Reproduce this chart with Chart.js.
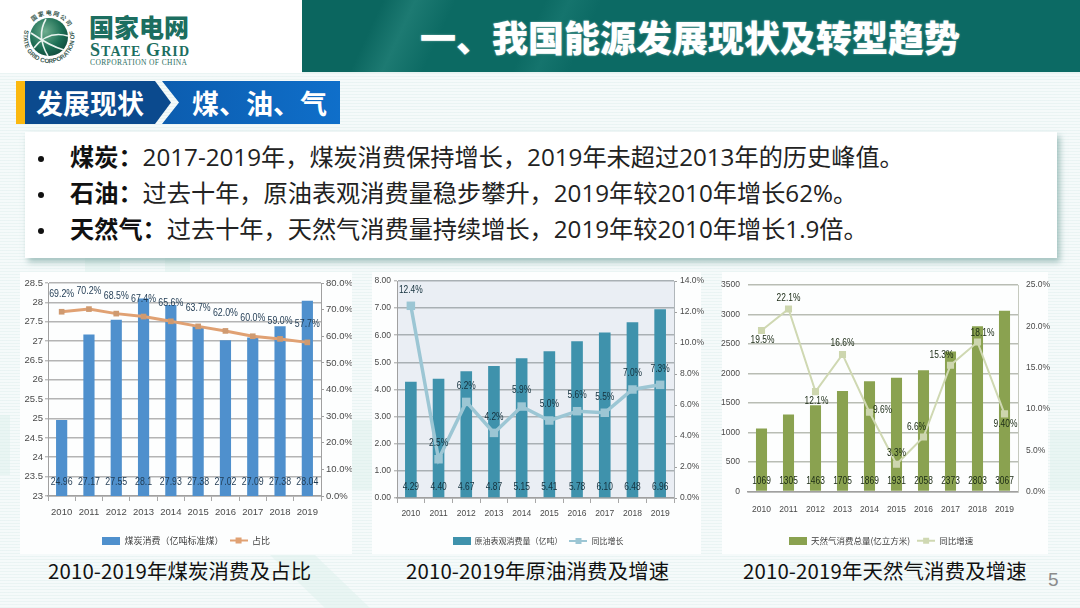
<!DOCTYPE html>
<html>
<head>
<meta charset="utf-8">
<script src="https://cdn.jsdelivr.net/npm/chart.js@4"></script>
<style>
  html, body { margin: 0; padding: 0; }
  body { width: 1080px; height: 608px; overflow: hidden; position: relative; font-family: "Noto Sans CJK SC", sans-serif; color: #1c1c1c;
    background:
      repeating-linear-gradient(0deg, rgba(205,228,226,.28) 0 1px, rgba(255,255,255,0) 1px 3px),
      linear-gradient(0deg, #f5fafa, #f5fafa); }
  .wm { position: absolute; background: #dcefeb; opacity: .45; }
  .panel { position: absolute; top: 272px; height: 282px; background: #fdfefe; }
  #logoBox { position: absolute; left: 0; top: 0; width: 302px; height: 73px; background: #fff; }
  #band { position: absolute; left: 302px; top: 0; width: 778px; height: 73px;
    background: linear-gradient(115deg, #0b665f 0 10%, #1d7a72 14%, #0c6a63 19%, #0c6a63 30%, #15746d 33%, #0c6a64 37%); border-bottom: 1px solid #e6f3f1; box-sizing: border-box; }
  #title { position: absolute; left: 420px; top: 10px; font-size: 36px; line-height: 52px; font-weight: 900; color: #fff; white-space: nowrap; text-shadow: 0 0 2px rgba(255,255,255,.5); }
  #tagY { position: absolute; left: 16px; top: 81px; width: 9px; height: 43px; background: #fbb80f; }
  #tagSvg { position: absolute; left: 25px; top: 81px; }
  .tagText { position: absolute; top: 81px; line-height: 43px; font-size: 27px; font-weight: 700; color: #fff; white-space: nowrap; }
  #points { position: absolute; left: 25px; top: 132px; width: 1032px; height: 126px; background: #fff; box-shadow: 3px 4px 6px rgba(120,165,160,.65); }
  .pt { position: absolute; left: 45px; font-family: "Open Sans", "Noto Sans CJK SC", sans-serif; font-size: 24.2px; line-height: 36px; white-space: nowrap; color: #222; }
  .pt b { font-weight: 700; color: #111; }
  .dot { position: absolute; left: 13px; width: 6px; height: 6px; border-radius: 50%; background: #111; }
  canvas { position: absolute; }
  .cap { position: absolute; top: 555px; line-height: 30px; font-size: 20.4px; color: #111; white-space: nowrap; letter-spacing: .15px; }
  #pageNo { position: absolute; left: 1048px; top: 567px; font-size: 19px; line-height: 26px; color: #8c8c8c; font-family: "Liberation Sans", sans-serif; }
</style>
</head>
<body>
<div class="wm" style="left:0;top:415px;width:10px;height:60px"></div>
<div class="wm" style="left:352px;top:420px;width:20px;height:70px"></div>
<div class="wm" style="left:1050px;top:430px;width:30px;height:60px"></div>
<div class="wm" style="left:270px;top:555px;width:100px;height:53px;clip-path:polygon(0 0,45% 0,100% 100%,55% 100%)"></div>
<div class="wm" style="left:85px;top:258px;width:35px;height:14px"></div>
<div class="wm" style="left:165px;top:258px;width:25px;height:14px"></div>

<div id="logoBox">
  <svg width="302" height="73" xmlns="http://www.w3.org/2000/svg">
    <defs>
      <radialGradient id="globe" cx=".4" cy=".35" r=".8"><stop offset="0" stop-color="#6fae8f"/><stop offset=".55" stop-color="#1d6f55"/><stop offset="1" stop-color="#0d3f33"/></radialGradient>
      <path id="ringLow" d="M 25 29 A 25.5 25.5 0 1 0 73 29"/>
      <path id="ringTop" d="M 30 26 A 22 22 0 0 1 68 26"/>
    </defs>
    <circle cx="49" cy="37" r="19" fill="url(#globe)"/>
    <path d="M34 48 Q48 30 68 36 M31 33 Q50 46 64 50 M46 19 Q36 36 48 56" stroke="#e8f3ee" stroke-width="1.6" fill="none"/>
    <text font-size="6.2" font-family="Liberation Sans" font-weight="700" fill="#3b5b52"><textPath href="#ringLow" startOffset="1%">STATE GRID CORPORATION OF CHINA</textPath></text>
    <text font-size="6" font-weight="700" fill="#3b5b52" font-family="Noto Sans CJK SC" letter-spacing="1"><textPath href="#ringTop" startOffset="12%">国家电网公司</textPath></text>
    <text x="89" y="37" font-size="25" font-weight="900" fill="#1c6e60" font-family="Noto Sans CJK SC">国家电网</text>
    <text x="90" y="56" font-weight="700" fill="#1c6e60" font-family="Liberation Serif" textLength="99" font-size="14">
      <tspan font-size="18">S</tspan>TATE <tspan font-size="18">G</tspan>RID</text>
    <text x="90" y="65" font-size="7.5" fill="#2d6f62" font-family="Liberation Serif" textLength="97">CORPORATION OF CHINA</text>
  </svg>
</div>
<div id="band"></div>
<div id="title">一、我国能源发展现状及转型趋势</div>

<div id="tagY"></div>
<svg id="tagSvg" width="315" height="43" xmlns="http://www.w3.org/2000/svg">
  <defs><linearGradient id="tagG" x1="0" x2="1"><stop offset="0" stop-color="#0c5cae"/><stop offset="1" stop-color="#0f6fca"/></linearGradient></defs>
  <polygon points="130,0 315,0 315,43 130,43 137,43 154,21.5 137,0" fill="url(#tagG)"/>
  <polygon points="0,0 130,0 146,21.5 130,43 0,43" fill="#0b4a8e"/>
</svg>
<div class="tagText" style="left:36px">发展现状</div>
<div class="tagText" style="left:192px">煤、油、气</div>

<div id="points">
  <div class="dot" style="top:24px"></div>
  <div class="pt" style="top:7px"><b>煤炭&#xFF1A;</b>2017-2019年&#xFF0C;煤炭消费保持增长&#xFF0C;2019年未超过2013年的历史峰值。</div>
  <div class="dot" style="top:60px"></div>
  <div class="pt" style="top:43px"><b>石油&#xFF1A;</b>过去十年&#xFF0C;原油表观消费量稳步攀升&#xFF0C;2019年较2010年增长62%。</div>
  <div class="dot" style="top:96px"></div>
  <div class="pt" style="top:79px"><b>天然气&#xFF1A;</b>过去十年&#xFF0C;天然气消费量持续增长&#xFF0C;2019年较2010年增长1.9倍。</div>
</div>

<div class="panel" style="left:20px;width:332px"></div>
<div class="panel" style="left:372px;width:329px"></div>
<div class="panel" style="left:722px;width:326px"></div>
<canvas id="coalChart" width="332" height="283" style="left:20px;top:272px"></canvas>
<canvas id="oilChart" width="332" height="283" style="left:372px;top:272px"></canvas>
<canvas id="gasChart" width="338" height="283" style="left:712px;top:272px"></canvas>

<div class="cap" style="left:48px">2010-2019年煤炭消费及占比</div>
<div class="cap" style="left:406px">2010-2019年原油消费及增速</div>
<div class="cap" style="left:743px">2010-2019年天然气消费及增速</div>
<div id="pageNo">5</div>

<script>
const years = ['2010', '2011', '2012', '2013', '2014', '2015', '2016', '2017', '2018', '2019'];

const coalUse = [24.96, 27.17, 27.55, 28.1, 27.93, 27.38, 27.02, 27.09, 27.38, 28.04];
const coalShare = [69.2, 70.2, 68.5, 67.4, 65.6, 63.7, 62.0, 60.0, 59.0, 57.7];
const coalUseLabels = ['24.96', '27.17', '27.55', '28.1', '27.93', '27.38', '27.02', '27.09', '27.38', '28.04'];
const coalShareLabels = ['69.2%', '70.2%', '68.5%', '67.4%', '65.6%', '63.7%', '62.0%', '60.0%', '59.0%', '57.7%'];
const coalLeftTicks = ['23', '23.5', '24', '24.5', '25', '25.5', '26', '26.5', '27', '27.5', '28', '28.5'];
const coalRightTicks = ['0.0%', '10.0%', '20.0%', '30.0%', '40.0%', '50.0%', '60.0%', '70.0%', '80.0%'];

const oilUse = [4.29, 4.40, 4.67, 4.87, 5.15, 5.41, 5.78, 6.10, 6.48, 6.96];
const oilGrowth = [12.4, 2.5, 6.2, 4.2, 5.9, 5.0, 5.6, 5.5, 7.0, 7.3];
const oilUseLabels = ['4.29', '4.40', '4.67', '4.87', '5.15', '5.41', '5.78', '6.10', '6.48', '6.96'];
const oilGrowthLabels = ['12.4%', '2.5%', '6.2%', '4.2%', '5.9%', '5.0%', '5.6%', '5.5%', '7.0%', '7.3%'];
const oilLeftTicks = ['0.00', '1.00', '2.00', '3.00', '4.00', '5.00', '6.00', '7.00', '8.00'];
const oilRightTicks = ['0.0%', '2.0%', '4.0%', '6.0%', '8.0%', '10.0%', '12.0%', '14.0%'];

const gasUse = [1069, 1305, 1463, 1705, 1869, 1931, 2058, 2373, 2803, 3067];
const gasGrowth = [19.5, 22.1, 12.1, 16.6, 9.6, 3.3, 6.6, 15.3, 18.1, 9.4];
const gasUseLabels = ['1069', '1305', '1463', '1705', '1869', '1931', '2058', '2373', '2803', '3067'];
const gasGrowthLabels = ['19.5%', '22.1%', '12.1%', '16.6%', '9.6%', '3.3%', '6.6%', '15.3%', '18.1%', '9.40%'];
const gasGrowthSides = ['below', 'above', 'below', 'above', 'right', 'above', 'upleft', 'left', 'upright', 'below'];
const gasLeftTicks = ['0', '500', '1000', '1500', '2000', '2500', '3000', '3500'];
const gasRightTicks = ['0.0%', '5.0%', '10.0%', '15.0%', '20.0%', '25.0%'];

const tickFont = '"Liberation Sans", sans-serif';

// small picture for the legend, box for bars and line with marker for the line
function legendIcon(type, color) {
  const c = document.createElement('canvas');
  c.width = 18; c.height = 8;
  const g = c.getContext('2d');
  g.fillStyle = color;
  g.strokeStyle = color;
  if (type == 'bar') {
    g.fillRect(0, 0, 18, 8);
  } else {
    g.lineWidth = 2;
    g.beginPath(); g.moveTo(0, 4); g.lineTo(18, 4); g.stroke();
    g.fillRect(6, 1, 6, 6);
  }
  return c;
}

// narrow text, the source chart used a condensed face
function squeezed(c, text, x, y) {
  c.save();
  c.translate(x, y);
  c.scale(.8, 1);
  c.fillText(text, 0, 0);
  c.restore();
}

// draws the value texts (chart.js has no data labels without a plugin)
const valueLabels = {
  id: 'valueLabels',
  afterDatasetsDraw(chart, args, o) {
    const c = chart.ctx;
    c.save();
    c.textBaseline = 'middle';
    c.textAlign = 'center';
    c.font = o.font;
    c.fillStyle = o.color;
    chart.getDatasetMeta(0).data.forEach((bar, i) => {
      squeezed(c, o.barLabels[i], bar.x, chart.chartArea.bottom - o.barLift);
    });
    chart.getDatasetMeta(1).data.forEach((pt, i) => {
      const side = o.sides ? o.sides[i] : 'above';
      let dx = 0, dy = -o.lineGap;
      if (side == 'below') { dy = 10; dx = 1; }
      if (side == 'right') { dx = 13; dy = -2; }
      if (side == 'left') { dx = -9; dy = -10; }
      if (side == 'upleft') { dx = -7; dy = -10; }
      if (side == 'upright') { dx = 5; dy = -9; }
      squeezed(c, o.lineLabels[i], pt.x + dx, pt.y + dy);
    });
    c.restore();
  }
};

const plotBack = {
  id: 'plotBack',
  beforeDraw(chart, args, o) {
    if (!o.color) return;
    const a = chart.chartArea;
    chart.ctx.save();
    chart.ctx.fillStyle = o.color;
    chart.ctx.fillRect(a.left, a.top, a.width, a.height);
    chart.ctx.restore();
  }
};

function comboChart(id, s) {
  return new Chart(document.getElementById(id), {
    data: {
      labels: years,
      datasets: [
        { type: 'bar', order: 2, label: s.barName, data: s.bars, yAxisID: 'y', backgroundColor: s.barColor, barPercentage: s.barShare, categoryPercentage: 1 },
        { type: 'line', order: 1, label: s.lineName, data: s.line, yAxisID: 'y1', borderColor: s.lineColor, backgroundColor: s.markColor,
          borderWidth: s.lineWidth, pointStyle: 'rect', pointRadius: s.markSize, pointBorderWidth: 0, tension: 0 }
      ]
    },
    options: {
      responsive: false,
      animation: false,
      layout: { padding: { top: s.top, left: 0, right: 0, bottom: 0 } },
      scales: {
        x: {
          afterFit(a) { a.height = s.xHeight; },
          grid: { offset: true, drawOnChartArea: false, drawTicks: s.ticksOn, tickLength: 5, color: '#a8a8a8', tickWidth: 1 },
          border: { color: '#a0a0a0', width: 1.5 },
          ticks: { color: '#4a4a4a', font: { size: s.tickSize, family: tickFont }, padding: s.xPad, maxRotation: 0, autoSkip: false }
        },
        y: {
          min: s.yMin, max: s.yMax,
          afterFit(a) { a.width = s.leftWidth; },
          afterBuildTicks(a) { a.ticks = s.leftTicks.map((t, i) => ({ value: s.yMin + i * s.yStep })); },
          grid: { color: s.gridColor, lineWidth: 1.6, drawTicks: s.ticksOn, tickLength: 3, tickColor: '#a0a0a0', tickWidth: 1 },
          border: { display: s.ticksOn, color: '#a0a0a0' },
          ticks: { color: '#4a4a4a', font: { size: s.tickSize, family: tickFont }, padding: s.yPad, callback: (v, i) => s.leftTicks[i] }
        },
        y1: {
          position: 'right',
          min: 0, max: s.y1Max,
          afterFit(a) { a.width = s.rightWidth; },
          afterBuildTicks(a) { a.ticks = s.rightTicks.map((t, i) => ({ value: i * s.y1Step })); },
          grid: { drawOnChartArea: false, drawTicks: s.ticksOn, tickLength: 3, tickColor: '#a0a0a0' },
          border: { color: s.rightLine, width: 1 },
          ticks: { color: '#4a4a4a', font: { size: s.tickSize, family: tickFont }, padding: s.yPad, callback: (v, i) => s.rightTicks[i] }
        }
      },
      plugins: {
        tooltip: { enabled: false },
        plotBack: { color: s.plotColor },
        valueLabels: { font: s.labelSize + 'px ' + tickFont, color: s.labelColor, barLabels: s.barLabels, lineLabels: s.lineLabels,
          sides: s.sides, barLift: s.barLift, lineGap: s.lineGap },
        legend: {
          position: 'bottom',
          labels: {
            color: '#3c3c3c', font: { size: s.legendSize, family: '"Noto Sans CJK SC"' }, padding: s.legendPad,
            usePointStyle: true, pointStyleWidth: 18,
            generateLabels: () => [
              { text: s.barName, fontColor: '#3c3c3c', pointStyle: legendIcon('bar', s.barColor), datasetIndex: 0, lineWidth: 0, strokeStyle: 'transparent', fillStyle: s.barColor },
              { text: s.lineName, fontColor: '#3c3c3c', pointStyle: legendIcon('line', s.lineColor), datasetIndex: 1, lineWidth: 0, strokeStyle: 'transparent', fillStyle: s.lineColor }
            ]
          }
        }
      }
    },
    plugins: [plotBack, valueLabels]
  });
}

comboChart('coalChart', {
  bars: coalUse, line: coalShare, barLabels: coalUseLabels, lineLabels: coalShareLabels,
  barName: '煤炭消费\uFF08亿吨标准煤\uFF09', lineName: '占比',
  barColor: '#4f90cd', lineColor: '#e0a173', markColor: '#cf9a70', gridColor: '#b4b4b4', rightLine: '#a0a0a0', labelColor: '#1f3a52',
  lineWidth: 3, markSize: 4, barShare: .41, top: 11, leftWidth: 28, rightWidth: 31, xHeight: 34, legendPad: 6, xPad: 6, yPad: 2,
  yMin: 23, yMax: 28.5, yStep: .5, leftTicks: coalLeftTicks, y1Max: 80, y1Step: 10, rightTicks: coalRightTicks,
  tickSize: 9.5, labelSize: 11, legendSize: 9, barLift: 14, lineGap: 18, ticksOn: true
});

comboChart('oilChart', {
  bars: oilUse, line: oilGrowth, barLabels: oilUseLabels, lineLabels: oilGrowthLabels,
  barName: '原油表观消费量\uFF08亿吨\uFF09', lineName: '同比增长',
  barColor: '#3f92ac', lineColor: '#9cc6d4', markColor: '#9cc6d4', gridColor: '#a9b0b4', rightLine: '#b0b6ba', labelColor: '#14303c', plotColor: '#eaeef4',
  lineWidth: 3.5, markSize: 6, barShare: .42, top: 9, leftWidth: 25, rightWidth: 30, xHeight: 32, legendPad: 7, xPad: 6, yPad: 3,
  yMin: 0, yMax: 8, yStep: 1, leftTicks: oilLeftTicks, y1Max: 14, y1Step: 2, rightTicks: oilRightTicks,
  tickSize: 8.5, labelSize: 10.5, legendSize: 8, barLift: 11, lineGap: 16, ticksOn: true
});

comboChart('gasChart', {
  bars: gasUse, line: gasGrowth, barLabels: gasUseLabels, lineLabels: gasGrowthLabels, sides: gasGrowthSides,
  barName: '天然气消费总量(亿立方米)', lineName: '同比增速',
  barColor: '#8aa250', lineColor: '#cfd8b2', markColor: '#cdd6ae', gridColor: '#b9bdb4', rightLine: '#c6cabf', labelColor: '#1a2a14',
  lineWidth: 2, markSize: 5, barShare: .41, top: 11, leftWidth: 36, rightWidth: 32, xHeight: 38, legendPad: 7, xPad: 13, yPad: 8,
  yMin: 0, yMax: 3500, yStep: 500, leftTicks: gasLeftTicks, y1Max: 25, y1Step: 5, rightTicks: gasRightTicks,
  tickSize: 8.5, labelSize: 10.5, legendSize: 8.5, barLift: 10, lineGap: 11, ticksOn: false
});
</script>
</body>
</html>
